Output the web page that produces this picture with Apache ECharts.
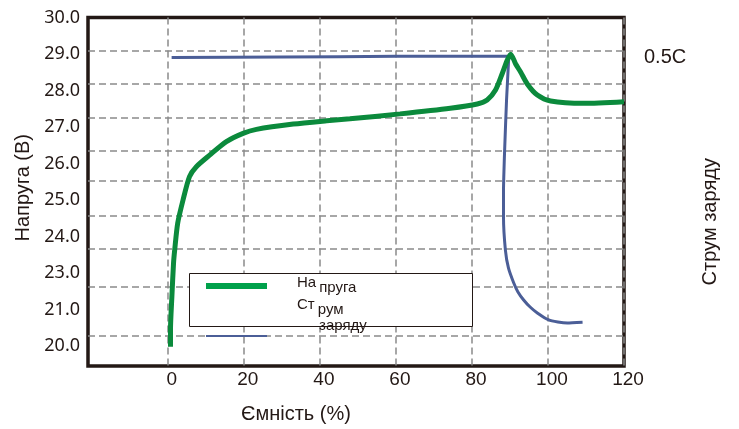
<!DOCTYPE html>
<html>
<head>
<meta charset="utf-8">
<script src="https://cdn.jsdelivr.net/npm/echarts@6/dist/echarts.min.js"></script>
<style>html,body{margin:0;padding:0;background:#fff}#c{width:739px;height:429px}</style>
</head>
<body>
<div id="c"></div>
<script>
// ---- data ----
const xTicks = [0, 20, 40, 60, 80, 100, 120];
const yTickLabels = ['20.0', '21.0', '23.0', '24.0', '25.0', '26.0', '27.0', '28.0', '29.0', '30.0'];
const yLabelIndex = [0, 1, 2, 3, 4, 5, 6, 7, 8, 9];
const voltGrid = [20.35, 21.85, 23, 24, 25.05, 25.95, 26.95, 28, 29];
const currentTicks = [0.5];

const capacityV = [0.7, 0.7, 1.06, 1.5, 1.8, 2.6, 4.0, 5.7, 7.5, 11.0, 15.4, 19.8, 23.3, 33.0, 41.8, 47.9, 61.1, 74.3, 81.4, 84.0, 86.2, 88.0, 89.3, 90.2, 91.5, 92.8, 94.6, 97.2, 100.7, 109.4, 120];
const voltage   = [20.02, 20.53, 21.53, 22.56, 22.95, 23.77, 24.47, 25.18, 25.48, 25.83, 26.24, 26.49, 26.61, 26.77, 26.87, 26.93, 27.08, 27.25, 27.38, 27.5, 27.8, 28.31, 28.71, 28.89, 28.59, 28.35, 27.98, 27.65, 27.47, 27.4, 27.45];

const capacityI = [1.0, 30, 60, 89.7, 89.1, 88.6, 88.3, 88.3, 88.8, 89.6, 91.0, 92.1, 93.6, 95.3, 97.2, 100.2, 102.6, 105.1, 109.1];
const current   = [0.5, 0.501, 0.502, 0.502, 0.431, 0.35, 0.285, 0.242, 0.188, 0.159, 0.1345, 0.12, 0.107, 0.0956, 0.086, 0.0746, 0.0713, 0.0697, 0.0708];

const zip = (a, b) => a.map((v, i) => [v, b[i]]);
const ink = '#231815';
const dash = { color: '#8a8a8a', width: 1.5, type: [7, 4] };
// legend sample bars (thin/thick) inside a 61x10 icon box
const barIcon = h => 'path://M0,0h0.01v0.01h-0.01z M0,' + (5 - h / 2) + 'h61v' + h + 'h-61z M60.99,9.99h0.01v0.01h-0.01z';

const chart = echarts.init(document.getElementById('c'));
chart.setOption({
  animation: false,
  grid: { left: 88, right: 115, top: 17.5, bottom: 63, show: true, borderColor: ink, borderWidth: 3.5 },
  xAxis: {
    type: 'value', min: -21, max: 120,
    name: 'Ємність (%)', nameLocation: 'middle', nameGap: 38,
    nameTextStyle: { fontFamily: 'Liberation Sans', fontSize: 20, color: ink, padding: [0, 120, 0, 0] },
    axisLine: { show: false },
    axisTick: { show: false, customValues: xTicks },
    axisLabel: { customValues: xTicks, margin: 4, fontFamily: 'Liberation Sans', fontSize: 19, color: ink, padding: [0, 0, 0, 8] },
    splitLine: { show: true, lineStyle: dash }
  },
  yAxis: [
    {
      type: 'value', min: 19.44, max: 30, position: 'left',
      axisLine: { show: false },
      axisTick: { show: false, customValues: voltGrid },
      axisLabel: { show: false },
      splitLine: { show: true, lineStyle: dash }
    },
    {
      type: 'value', min: -0.55, max: 9, position: 'left',
      name: 'Напруга (В)', nameLocation: 'middle', nameGap: 53, nameRotate: 90,
      nameTextStyle: { fontFamily: 'Liberation Sans', fontSize: 20, color: ink, padding: [0, 0, 0, 8] },
      axisLine: { show: false },
      axisTick: { show: false, customValues: yLabelIndex },
      axisLabel: { customValues: yLabelIndex, margin: 8, fontFamily: 'Noto Sans', fontSize: 18, color: ink,
        formatter: v => yTickLabels[Math.round(v)] },
      splitLine: { show: false }
    },
    {
      type: 'value', min: 0, max: 0.565, position: 'right',
      name: 'Струм заряду', nameLocation: 'middle', nameGap: 76, nameRotate: 90,
      nameTextStyle: { fontFamily: 'Liberation Sans', fontSize: 20, color: ink, padding: [0, 60, 0, 0] },
      axisLine: { show: false },
      axisTick: { show: false, customValues: currentTicks },
      axisLabel: { customValues: currentTicks, margin: 20, fontFamily: 'Liberation Sans', fontSize: 20, color: ink,
        formatter: v => v + 'C' },
      splitLine: { show: false }
    }
  ],
  graphic: [{
    type: 'rect', left: 189, top: 273, z: 3,
    shape: { width: 283, height: 53 },
    style: { fill: '#fff', stroke: ink, lineWidth: 1 }
  }],
  legend: [
    {
      orient: 'vertical', left: 206, top: 281, padding: 0, itemWidth: 61, itemHeight: 10, itemGap: 40,
      formatter: () => '',
      textStyle: { fontSize: 8 },
      data: [
        { name: 'Напруга', icon: barIcon(6), itemStyle: { color: '#00a14b' } },
        { name: 'Струм заряду', icon: barIcon(2), itemStyle: { color: '#4b5e97' } }
      ],
      z: 5
    },
    {
      orient: 'vertical', left: 292, top: 275, padding: 0, itemWidth: 0, itemHeight: 0, itemGap: 2,
      icon: 'rect',
      textStyle: {
        fontFamily: 'Liberation Sans', fontSize: 15, color: ink,
        rich: {
          a: { fontFamily: 'Liberation Sans', fontSize: 15, color: ink },
          b: { fontFamily: 'Liberation Sans', fontSize: 15, color: ink, padding: [10, 0, 0, 3] },
          c: { fontFamily: 'Liberation Sans', fontSize: 15, color: ink, padding: [0, 0, 0, 22], lineHeight: 18 }
        }
      },
      formatter: name => name === 'Напруга' ? '{a|На}{b|пруга}' : '{a|Ст}{b|рум}\n{c|заряду}',
      data: ['Напруга', 'Струм заряду'],
      z: 5
    }
  ],
  series: [
    {
      name: 'Напруга', type: 'line', xAxisIndex: 0, yAxisIndex: 0,
      data: zip(capacityV, voltage), showSymbol: false, symbol: 'none', smooth: 0.25,
      lineStyle: { color: '#0b8a3c', width: 5 }, itemStyle: { color: '#0b8a3c' }, z: 3
    },
    {
      name: 'Струм заряду', type: 'line', xAxisIndex: 0, yAxisIndex: 2,
      data: zip(capacityI, current), showSymbol: false, symbol: 'none', smooth: 0.15,
      lineStyle: { color: '#4b5e97', width: 3 }, itemStyle: { color: '#4b5e97' }, z: 2
    }
  ]
});
</script>
</body>
</html>
